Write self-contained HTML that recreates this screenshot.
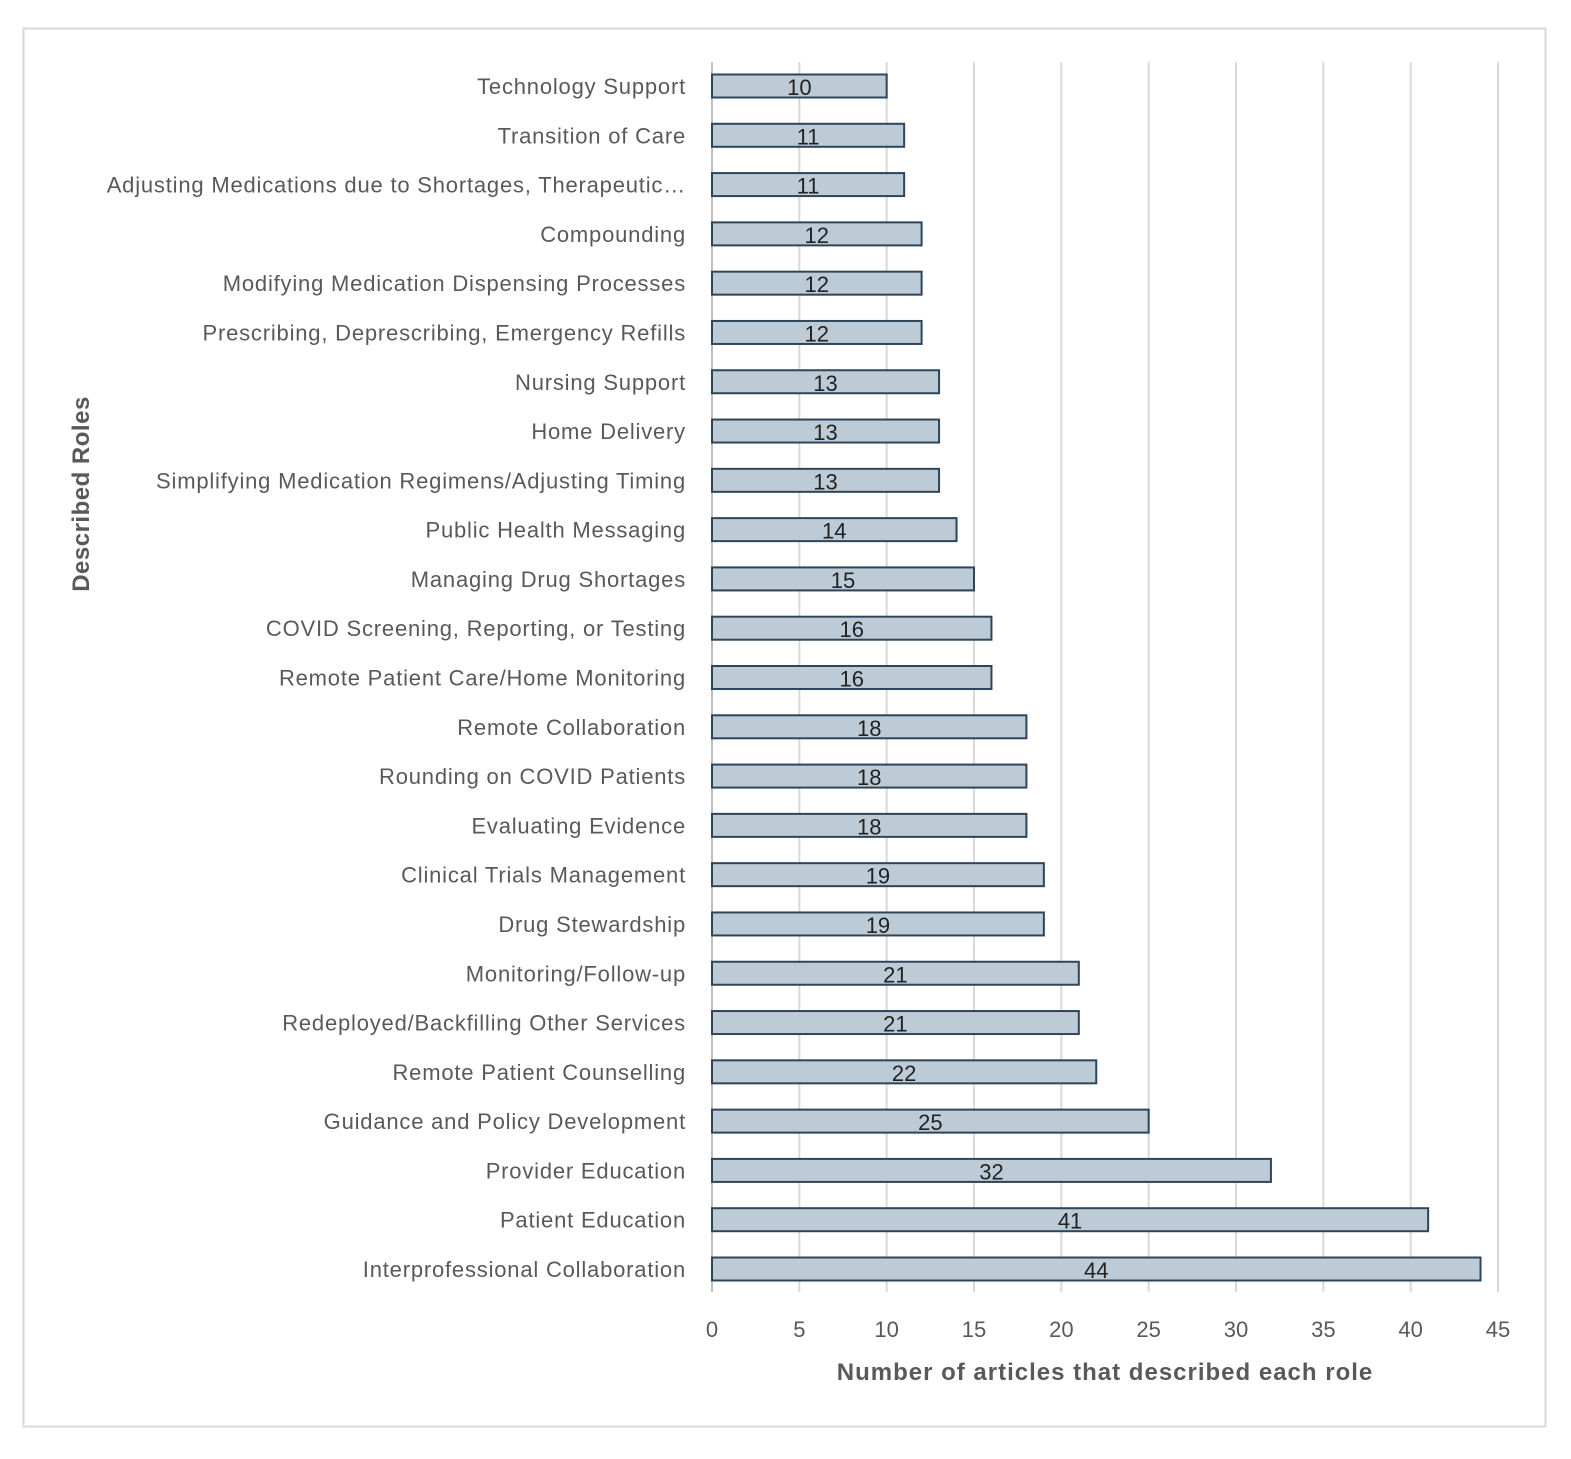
<!DOCTYPE html>
<html><head><meta charset="utf-8"><style>
body{margin:0;background:#fff;}
svg text{font-family:"Liberation Sans",sans-serif;}
</style></head><body>
<svg id="chart" width="1571" height="1454" xmlns="http://www.w3.org/2000/svg">
<rect x="23.5" y="28.5" width="1522" height="1398" fill="#fff" stroke="#d9d9d9" stroke-width="2"/>
<g id="grid"></g><g id="bars"></g><g id="ylabels"></g><g id="xticks"></g>
<text x="1105" y="1380" text-anchor="middle" font-size="24" font-weight="bold" fill="#595959" letter-spacing="1">Number of articles that described each role</text>
<text transform="translate(89,494) rotate(-90)" text-anchor="middle" font-size="24" font-weight="bold" fill="#595959" letter-spacing="0.5">Described Roles</text>
</svg>
<script>
const categories=["Technology Support","Transition of Care","Adjusting Medications due to Shortages, Therapeutic…","Compounding","Modifying Medication Dispensing Processes","Prescribing, Deprescribing, Emergency Refills","Nursing Support","Home Delivery","Simplifying Medication Regimens/Adjusting Timing","Public Health Messaging","Managing Drug Shortages","COVID Screening, Reporting, or Testing","Remote Patient Care/Home Monitoring","Remote Collaboration","Rounding on COVID Patients","Evaluating Evidence","Clinical Trials Management","Drug Stewardship","Monitoring/Follow-up","Redeployed/Backfilling Other Services","Remote Patient Counselling","Guidance and Policy Development","Provider Education","Patient Education","Interprofessional Collaboration"];
const values=[10,11,11,12,12,12,13,13,13,14,15,16,16,18,18,18,19,19,21,21,22,25,32,41,44];
const xTicks=[0,5,10,15,20,25,30,35,40,45];
const NS="http://www.w3.org/2000/svg";
const x0=712,xScale=(1498-712)/45;
const xPos=v=>x0+v*xScale;
const yTop=86,yBot=1269;
const yPos=i=>yTop+i*(yBot-yTop)/(categories.length-1);
function mk(tag,attrs,parent){const e=document.createElementNS(NS,tag);for(const k in attrs)e.setAttribute(k,attrs[k]);document.getElementById(parent).appendChild(e);return e;}
xTicks.forEach(t=>{
 const l=mk('line',{x1:xPos(t),x2:xPos(t),y1:62,y2:1292,stroke:t===0?'#bfbfbf':'#d9d9d9','stroke-width':2},'grid');
 
 
 const tx=mk('text',{x:xPos(t),y:1337,'text-anchor':'middle','font-size':22,fill:'#595959'},'xticks');
 tx.textContent=t;
 
 
});
categories.forEach((c,i)=>{
 const y=yPos(i);
 const r=mk('rect',{x:x0,y:y-11.5,width:xPos(values[i])-x0,height:23,fill:'#bccbd6',stroke:'#2e4559','stroke-width':2},'bars');
 
 
 const v=mk('text',{x:(x0+xPos(values[i]))/2,y:y+9,'text-anchor':'middle','font-size':22,fill:'#222'},'bars');
 v.textContent=values[i];
 
 
 const lb=mk('text',{x:686,y:y+8,'text-anchor':'end','font-size':22,fill:'#595959','letter-spacing':0.8},'ylabels');
 lb.textContent=c;
 
 
});
</script>
</body></html>
